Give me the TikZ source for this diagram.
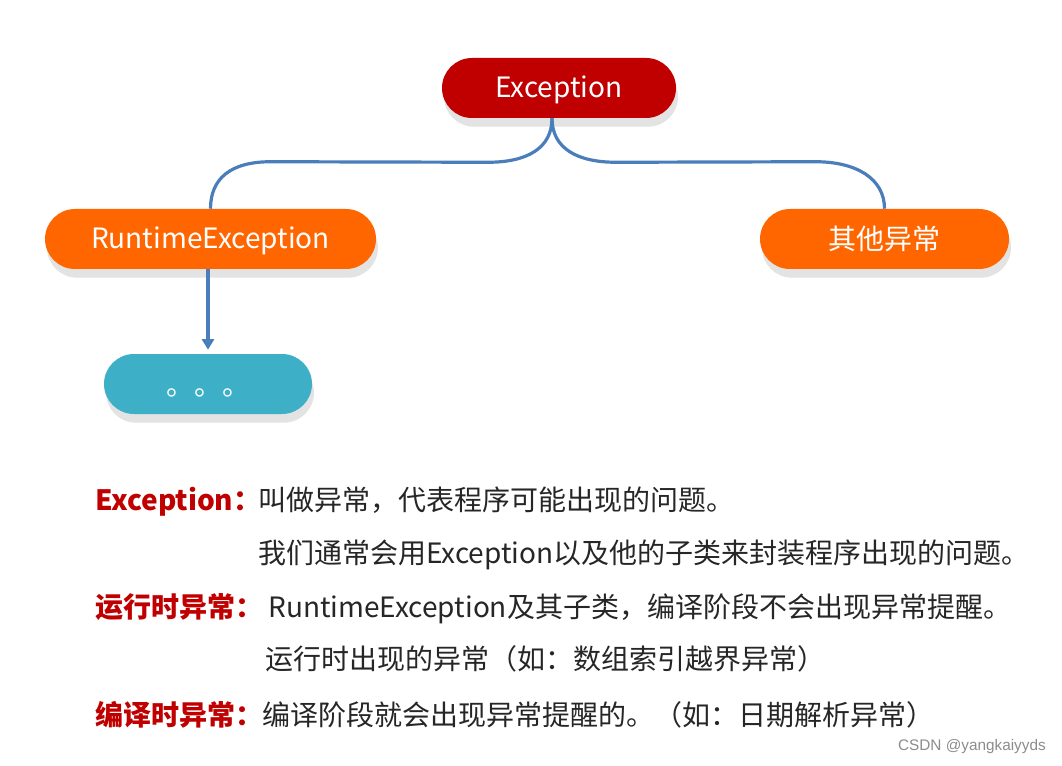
\documentclass[tikz,border=0pt]{standalone}
\usepackage{fontspec}
\setmainfont{Noto Sans CJK SC}
\newfontfamily\wmfont{Liberation Sans}
\usetikzlibrary{arrows.meta,shadows,calc}
\definecolor{exred}{HTML}{C00000}
\definecolor{exorange}{HTML}{FF6600}
\definecolor{exteal}{HTML}{3DB0C8}
\definecolor{connblue}{HTML}{4A7EBB}
\definecolor{bodytext}{HTML}{262626}
\definecolor{wmgray}{HTML}{8C8C8C}
\begin{document}
\begin{tikzpicture}[x=0.75pt,y=-0.75pt,
  pill/.style={rounded corners=22.5pt, minimum height=45pt, inner sep=0pt, text=white,
    font=\fontsize{21}{25}\selectfont,
    drop shadow={shadow xshift=1.5pt, shadow yshift=-6.5pt, fill=black!11, opacity=1}},
  latin/.style={text height=15.75pt, text depth=2.1pt},
  conn/.style={draw=connblue, line width=2.4pt},
  txt/.style={anchor=base west, inner sep=0pt, text=bodytext, font=\fontsize{21}{25}\selectfont},
  lbl/.style={anchor=base west, inner sep=0pt, text=exred, font=\fontsize{21}{25}\selectfont\bfseries}
]
\useasboundingbox (0,0) rectangle (1062,766);
\fill[white] (0,0) rectangle (1062,766);

% nodes
\node[pill, latin, fill=exred, minimum width=175.5pt] (ex) at (559,88) {Exception};
\node[pill, latin, fill=exorange, minimum width=248.25pt] (rt) at (210.5,239) {RuntimeException};
\node[pill, fill=exorange, minimum width=186.75pt] (ot) at (884.5,239) {其他异常};
\node[pill, fill=exteal, minimum width=156pt] (dots) at (208,384) {\raisebox{-8.5pt}[0pt][0pt]{。。。}};

% connectors
\coordinate (j) at ($(ex.south)+(-7,0)$);
\draw[conn] (j) .. controls ($(j)+(0,30)$) and ($(j)+(-25,44)$) .. ($(j)+(-64,44)$)
  -- ($(rt.north)+(60,-47)$) .. controls ($(rt.north)+(20,-47)$) and ($(rt.north)+(0,-30)$) .. (rt.north);
\draw[conn] (j) .. controls ($(j)+(0,30)$) and ($(j)+(25,44)$) .. ($(j)+(64,44)$)
  -- ($(ot.north)+(-69,-47)$) .. controls ($(ot.north)+(-28,-47)$) and ($(ot.north)+(0,-30)$) .. (ot.north);
\draw[conn, -{Triangle[length=8pt,width=9pt]}] (dots.north |- rt.south) -- ($(dots.north)+(0,-4)$);

% text block
\node[lbl] (l1) at (95,510) {Exception：};
\node[txt] (t1) at (258,510) {叫做异常，代表程序可能出现的问题。};
\node[txt] (t2) at (258,563) {我们通常会用Exception以及他的子类来封装程序出现的问题。};
\node[lbl] (l3) at (95,617) {运行时异常：};
\node[txt] (t3) at (268,617) {RuntimeException及其子类，编译阶段不会出现异常提醒。};
\node[txt] (t4) at (265,669) {运行时出现的异常（如：数组索引越界异常）};
\node[lbl] (l5) at (95,725) {编译时异常：};
\node[txt] (t5) at (262,725) {编译阶段就会出现异常提醒的。（如：日期解析异常）};

% watermark
\node[anchor=east, inner sep=0pt, text=wmgray, font=\wmfont\fontsize{11.5}{13}\selectfont] (wm) at (1046,747) {CSDN @yangkaiyyds};
\end{tikzpicture}
\end{document}
